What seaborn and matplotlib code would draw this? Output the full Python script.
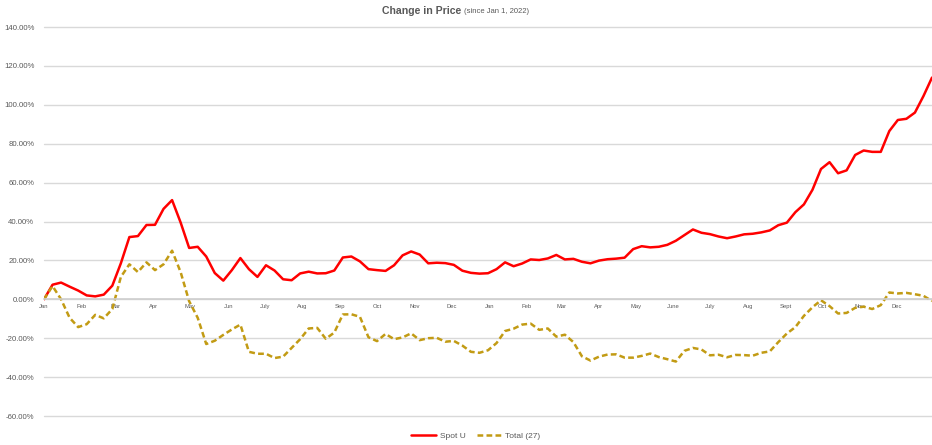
import numpy as np
import pandas as pd
import matplotlib
matplotlib.use("Agg")
import matplotlib.pyplot as plt
import matplotlib.dates as mdates
from matplotlib.ticker import PercentFormatter, FixedLocator
import seaborn as sns

# ---------------- data (weekly, since Jan 1, 2022) ----------------
start_date = "2022-01-01"
spot_u = [0, 7.5, 8.6, 6.5, 4.5, 2, 1.5, 2.4, 7, 18.5,
          32, 32.5, 38.2, 38.3, 46.5, 51, 39.5, 26.4, 27, 22,
          13.5, 9.6, 15, 21.2, 15.5, 11.5, 17.5, 14.8, 10.3, 9.8,
          13.3, 14.2, 13.3, 13.4, 14.8, 21.5, 22, 19.5, 15.5, 15,
          14.6, 17.5, 22.6, 24.6, 23, 18.5, 18.8, 18.6, 17.7, 14.7,
          13.6, 13.2, 13.4, 15.5, 19, 17, 18.4, 20.5, 20.2, 21,
          22.8, 20.5, 20.8, 19.3, 18.5, 19.9, 20.6, 20.9, 21.4, 25.8,
          27.3, 26.7, 27, 28, 30.1, 33, 35.9, 34.2, 33.5, 32.3,
          31.4, 32.3, 33.4, 33.7, 34.4, 35.4, 38.1, 39.4, 44.8, 48.8,
          56.3, 67, 70.5, 64.8, 66.3, 74.2, 76.5, 75.8, 75.8, 86.5,
          92.2, 92.8, 96, 104.5, 114]
total_27 = [0, 6.8, 0, -9.5, -14.3, -12.8, -8, -9.8, -5, 11.5,
            18, 14, 19, 15, 18, 25, 14, -1, -9.5, -23,
            -21.3, -18.3, -15.5, -13, -27, -28, -28, -30.2, -29.5, -25,
            -20.5, -15, -14.7, -20.3, -17.1, -7.8, -7.7, -9, -19.5, -21.5,
            -17.8, -20.5, -19.6, -17.5, -21, -20, -19.8, -21.8, -21.4, -23.8,
            -27, -27.5, -26.2, -22.5, -16.3, -15.1, -13, -12.5, -15.7, -15,
            -19.2, -18.2, -22, -29.3, -31.5, -29.5, -28.4, -28.3, -30, -30,
            -29.1, -27.9, -29.7, -30.8, -32, -26.5, -25, -25.8, -28.8, -28.5,
            -29.8, -28.6, -28.7, -29, -27.5, -26.8, -22, -17.6, -14.3, -8.5,
            -4.1, -0.5, -3.5, -7.3, -7, -4.4, -3.8, -5, -3, 3.5,
            3, 3.3, 2.6, 1.8, -0.9]
series_names = ["Spot U", "Total (27)"]
month_labels = ["Jan", "Feb", "Mar", "Apr", "May", "Jun", "July", "Aug", "Sep",
                "Oct", "Nov", "Dec", "Jan", "Feb", "Mar", "Apr", "May", "June",
                "July", "Aug", "Sept", "Oct", "Nov", "Dec"]
y_ticks = [-60, -40, -20, 0, 20, 40, 60, 80, 100, 120, 140]
title_main = "Change in Price"
title_sub = "(since Jan 1, 2022)"

dates = pd.date_range(start_date, periods=len(spot_u), freq="7D")
df = pd.DataFrame({
    "date": np.concatenate([dates, dates]),
    "value": spot_u + total_27,
    "series": [series_names[0]] * len(spot_u) + [series_names[1]] * len(total_27),
})

# ---------------- style ----------------
sns.set_theme(style="white")
FONT = ["Liberation Sans", "DejaVu Sans"]
plt.rcParams["font.family"] = FONT
plt.rcParams["axes.unicode_minus"] = False
GRAY = "#595959"
GRID = "#d9d9d9"
RED = "#ff0000"
GOLD = "#c29b14"

fig = plt.figure(figsize=(9.32, 4.45), dpi=100)
ax = fig.add_axes([44 / 932, 1 - 416 / 445, 888 / 932, 389 / 445])

sns.lineplot(data=df[df["series"] == series_names[0]], x="date", y="value",
             color=RED, linewidth=1.8, ax=ax, label=series_names[0])
sns.lineplot(data=df[df["series"] == series_names[1]], x="date", y="value",
             color=GOLD, linewidth=1.8, ax=ax, label=series_names[1])
ax.lines[0].set_solid_joinstyle("round")
ax.lines[0].set_solid_capstyle("round")
ax.lines[1].set_dashes((2.3, 1.3))
ax.lines[1].set_dash_joinstyle("round")

ax.set_ylim(-60, 140)
ax.set_xlim(dates[0], dates[-1])
ax.yaxis.set_major_locator(FixedLocator(y_ticks))
ax.yaxis.set_major_formatter(PercentFormatter(decimals=2))
ax.grid(axis="y", color=GRID, linewidth=1.0, zorder=0)
ax.grid(axis="x", visible=False)
ax.set_axisbelow(True)
for gl in ax.get_ygridlines():
    gl.set_clip_on(False)
for s in ["left", "right", "top"]:
    ax.spines[s].set_visible(False)
ax.spines["bottom"].set_position(("data", 0))
ax.spines["bottom"].set_color("#cfcfcf")
ax.spines["bottom"].set_linewidth(1.2)
ax.tick_params(axis="y", length=0, pad=7, labelsize=5.6, labelcolor=GRAY)

month_pos = pd.date_range(start_date, periods=len(month_labels), freq="MS")
ax.set_xticks(month_pos)
ax.set_xticklabels(month_labels)
ax.xaxis.set_minor_locator(mdates.DayLocator(interval=3))
ax.tick_params(axis="x", which="major", length=2, width=0.5, color="#cfcfcf",
               pad=1.5, labelsize=4.2, labelcolor=GRAY)
ax.tick_params(axis="x", which="minor", length=1.5, width=0.4, color="#cfcfcf")
ax.set_xlabel("")
ax.set_ylabel("")

ax.get_legend().remove()
handles, labels = ax.get_legend_handles_labels()
fig.legend(handles, labels, loc="center", bbox_to_anchor=(476 / 932, 1 - 436 / 445),
           ncol=2, frameon=False, fontsize=6, labelcolor=GRAY,
           handlelength=3.0, columnspacing=1.4, handletextpad=0.4)

fig.text(461 / 932, 1 - 11 / 445, title_main, ha="right", va="center",
         fontsize=7.6, fontweight="bold", color=GRAY)
fig.text(464 / 932, 1 - 11.5 / 445, title_sub, ha="left", va="center",
         fontsize=5.5, color=GRAY)

fig.savefig("out.png", dpi=100)
